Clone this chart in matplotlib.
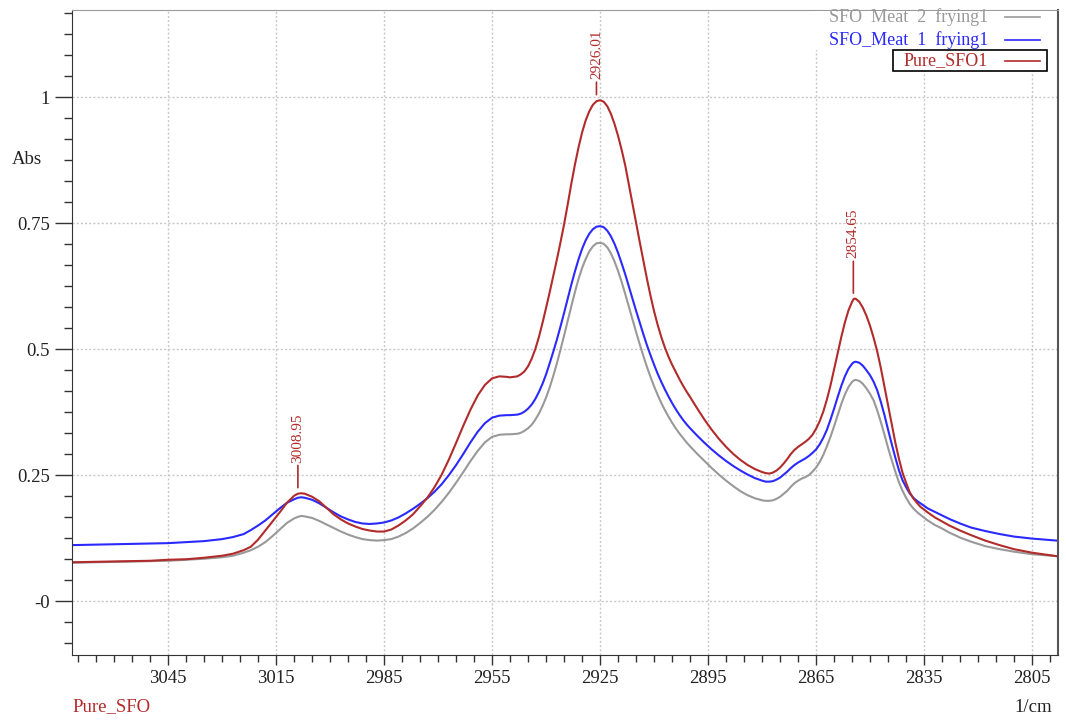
import numpy as np
import matplotlib
matplotlib.use('Agg')
import matplotlib.pyplot as plt
from matplotlib.ticker import FixedLocator, FixedFormatter, MultipleLocator
from matplotlib.patches import Rectangle

plt.rcParams['font.family'] = ['Liberation Serif', 'DejaVu Serif']

# wavenumber (1/cm)
wavenumber = [3072, 3065, 3058, 3050, 3045, 3040, 3035, 3030, 3027, 3024, 3022, 3020, 3018, 3016, 3014, 3012, 3010, 3009, 3008, 3007,
              3005, 3003, 3001, 2999, 2997, 2995, 2993, 2991, 2989, 2987, 2985, 2983, 2981, 2979, 2977, 2975, 2973, 2971, 2969, 2967,
              2965, 2963, 2961, 2959, 2957, 2955, 2953, 2951,
              2950, 2948,
              2947, 2946, 2945, 2944, 2943, 2942, 2941, 2940, 2939, 2938, 2937, 2936, 2935, 2934, 2933, 2932, 2931, 2930, 2929, 2928,
              2927, 2926, 2925, 2924, 2923, 2922, 2921, 2920, 2919, 2918, 2917, 2916, 2915, 2914, 2913, 2912, 2911, 2910, 2909, 2908,
              2907, 2906, 2905, 2904, 2903, 2902, 2901, 2900,
              2898, 2896, 2894, 2892, 2890, 2888, 2886, 2884, 2882, 2880,
              2879, 2878, 2877, 2876, 2875, 2874, 2873, 2872, 2871, 2870, 2869, 2868, 2867, 2866, 2865, 2864, 2863, 2862, 2861, 2860,
              2859, 2858, 2857, 2856, 2855,
              2854.5,
              2854, 2853, 2852, 2851, 2850, 2849, 2848, 2847, 2846, 2845, 2844, 2843, 2842, 2841, 2840, 2839, 2838, 2837, 2836,
              2834, 2832, 2830, 2828, 2825, 2822, 2818, 2814, 2810, 2805, 2798]

pure_sfo1 = [0.077, 0.078, 0.079, 0.080, 0.082, 0.083, 0.086, 0.090, 0.094, 0.101, 0.108, 0.122, 0.140, 0.158, 0.176, 0.195, 0.209, 0.213, 0.214, 0.213,
             0.207, 0.198, 0.185, 0.172, 0.162, 0.154, 0.148, 0.143, 0.140, 0.138, 0.138, 0.142, 0.150, 0.160, 0.172, 0.188, 0.205, 0.226, 0.251, 0.281,
             0.314, 0.348, 0.380, 0.408, 0.429, 0.442, 0.446, 0.445,
             0.444, 0.446,
             0.450, 0.456, 0.466, 0.481, 0.500, 0.524, 0.552, 0.582, 0.613, 0.645, 0.678, 0.712, 0.748, 0.787, 0.828, 0.866, 0.900, 0.930, 0.954, 0.972,
             0.985, 0.992, 0.994, 0.991, 0.982, 0.967, 0.947, 0.923, 0.895, 0.864, 0.826, 0.788, 0.750, 0.713, 0.676, 0.640, 0.606, 0.575, 0.548, 0.524,
             0.503, 0.485, 0.469, 0.455, 0.441, 0.428, 0.416, 0.405,
             0.382, 0.360, 0.340, 0.322, 0.306, 0.292, 0.280, 0.270, 0.262, 0.256,
             0.254, 0.253, 0.255, 0.259, 0.265, 0.273, 0.282, 0.292, 0.300, 0.306, 0.311, 0.316, 0.322, 0.330, 0.342, 0.357, 0.376, 0.400, 0.428, 0.460,
             0.492, 0.524, 0.553, 0.577, 0.594,
             0.600,
             0.600, 0.594, 0.582, 0.566, 0.546, 0.522, 0.495, 0.462, 0.425, 0.388, 0.350, 0.315, 0.283, 0.255, 0.235, 0.216, 0.204, 0.195, 0.187,
             0.176, 0.166, 0.158, 0.150, 0.140, 0.131, 0.120, 0.111, 0.103, 0.096, 0.089]

meat1_frying1 = [0.111, 0.112, 0.113, 0.114, 0.115, 0.117, 0.119, 0.123, 0.127, 0.133, 0.141, 0.150, 0.160, 0.172, 0.184, 0.195, 0.202, 0.205, 0.206, 0.205,
                 0.201, 0.194, 0.185, 0.176, 0.168, 0.162, 0.157, 0.154, 0.153, 0.154, 0.156, 0.160, 0.166, 0.174, 0.183, 0.193, 0.204, 0.217, 0.232, 0.250,
                 0.270, 0.292, 0.315, 0.336, 0.353, 0.364, 0.368, 0.369,
                 0.369, 0.370,
                 0.372, 0.376, 0.382, 0.390, 0.401, 0.415, 0.431, 0.450, 0.472, 0.495, 0.519, 0.545, 0.572, 0.600, 0.628, 0.654, 0.678, 0.699, 0.716, 0.729,
                 0.738, 0.743, 0.744, 0.742, 0.735, 0.724, 0.709, 0.691, 0.670, 0.648, 0.624, 0.600, 0.576, 0.553, 0.530, 0.508, 0.488, 0.469, 0.451, 0.435,
                 0.420, 0.406, 0.393, 0.381, 0.370, 0.360, 0.351, 0.343,
                 0.328, 0.314, 0.301, 0.289, 0.278, 0.268, 0.259, 0.251, 0.244, 0.239,
                 0.237, 0.237, 0.238, 0.241, 0.245, 0.251, 0.257, 0.264, 0.270, 0.275, 0.279, 0.283, 0.288, 0.294, 0.301, 0.311, 0.324, 0.340, 0.360, 0.382,
                 0.405, 0.427, 0.446, 0.461, 0.471,
                 0.474,
                 0.475, 0.473, 0.467, 0.458, 0.448, 0.435, 0.418, 0.395, 0.369, 0.340, 0.312, 0.285, 0.260, 0.240, 0.226, 0.214, 0.205, 0.199, 0.194,
                 0.184, 0.177, 0.170, 0.163, 0.154, 0.146, 0.139, 0.133, 0.128, 0.124, 0.120]

meat2_frying1 = [0.076, 0.077, 0.078, 0.079, 0.080, 0.082, 0.084, 0.087, 0.090, 0.096, 0.101, 0.108, 0.117, 0.129, 0.142, 0.155, 0.164, 0.167, 0.169, 0.168,
                 0.165, 0.159, 0.152, 0.145, 0.138, 0.132, 0.127, 0.123, 0.121, 0.120, 0.121, 0.123, 0.128, 0.135, 0.144, 0.155, 0.167, 0.181, 0.197, 0.215,
                 0.235, 0.256, 0.278, 0.298, 0.315, 0.326, 0.330, 0.331,
                 0.331, 0.332,
                 0.334, 0.338, 0.343, 0.350, 0.360, 0.372, 0.387, 0.404, 0.424, 0.447, 0.472, 0.499, 0.527, 0.556, 0.585, 0.613, 0.639, 0.661, 0.679, 0.694,
                 0.704, 0.710, 0.711, 0.709, 0.702, 0.690, 0.674, 0.655, 0.633, 0.609, 0.584, 0.559, 0.534, 0.510, 0.487, 0.465, 0.445, 0.426, 0.409, 0.393,
                 0.379, 0.366, 0.354, 0.343, 0.333, 0.324, 0.315, 0.307,
                 0.292, 0.278, 0.264, 0.251, 0.239, 0.228, 0.218, 0.210, 0.204, 0.200,
                 0.199, 0.199, 0.200, 0.203, 0.207, 0.213, 0.219, 0.227, 0.234, 0.239, 0.243, 0.246, 0.250, 0.257, 0.265, 0.276, 0.290, 0.307, 0.326, 0.347,
                 0.369, 0.391, 0.410, 0.425, 0.435,
                 0.438,
                 0.439, 0.437, 0.431, 0.422, 0.411, 0.398, 0.378, 0.355, 0.330, 0.304, 0.280, 0.257, 0.236, 0.219, 0.205, 0.193, 0.184, 0.177, 0.171,
                 0.160, 0.151, 0.144, 0.136, 0.126, 0.118, 0.109, 0.103, 0.098, 0.093, 0.089]

peak_labels = ['3008.95', '2926.01', '2854.65']
x_ticks = [3045, 3015, 2985, 2955, 2925, 2895, 2865, 2835, 2805]
y_ticks = [0, 0.25, 0.5, 0.75, 1]
y_ticklabels = ['-0', '0.25', '0.5', '0.75', '1']

RED = '#b22b2b'
BLUE = '#2a2aff'
GRAY = '#999999'

fig = plt.figure(figsize=(10.66, 7.23), dpi=100)
ax = fig.add_axes([72 / 1066, 1 - 655 / 723, 986 / 1066, 645 / 723])

x = np.array(wavenumber)
ax.plot(x, meat2_frying1, color=GRAY, lw=1.5)
ax.plot(x, meat1_frying1, color=BLUE, lw=1.5)
ax.plot(x, pure_sfo1, color=RED, lw=1.5)

ax.set_xlim(3071.7, 2797.8)
ax.set_ylim(-0.107, 1.173)

ax.xaxis.set_major_locator(FixedLocator(x_ticks))
ax.xaxis.set_minor_locator(MultipleLocator(5))
ax.yaxis.set_major_locator(FixedLocator(y_ticks))
ax.yaxis.set_major_formatter(FixedFormatter(y_ticklabels))
ax.yaxis.set_minor_locator(MultipleLocator(0.25 / 6))
ax.tick_params(axis='x', which='major', length=7, width=1, labelsize=13.5, pad=4, colors='#333333')
ax.tick_params(axis='x', which='minor', length=5, width=1, colors='#333333')
ax.tick_params(axis='y', which='major', length=12, width=1, labelsize=13.5, pad=4, colors='#333333')
ax.tick_params(axis='y', which='minor', length=6, width=1, colors='#333333')
for lab in ax.get_xticklabels() + ax.get_yticklabels():
    lab.set_color('#222222')

ax.grid(True, which='major', color='#c8c8c8', lw=1, linestyle=(0, (1.5, 1.5)))
ax.set_axisbelow(True)
ax.spines['left'].set_color('#333333')
ax.spines['bottom'].set_color('#333333')
ax.spines['top'].set_color('#999999')
ax.spines['right'].set_color('#555555')
ax.spines['right'].set_linewidth(1.5)

# peak labels on the Pure_SFO1 curve
line_len = [16, 9, 23]
for lab, ln in zip(peak_labels, line_len):
    px = float(lab)
    i = int(np.argmin(np.abs(x - px)))
    py = max(pure_sfo1[max(i - 1, 0):i + 2])
    ax.annotate('', xy=(px, py), xytext=(0, 4 + ln), textcoords='offset points',
                arrowprops=dict(arrowstyle='-', color=RED, lw=1.2, shrinkA=0, shrinkB=4))
    ax.annotate(lab, xy=(px, py), xytext=(0, 6 + ln), textcoords='offset points',
                rotation=90, ha='center', va='bottom', color=RED, fontsize=11)

# legend box in the style of the instrument software
tr = ax.transAxes
ax.add_patch(Rectangle((0.7485, 0.938), 0.2485, 0.0605, transform=tr, facecolor='white',
                       edgecolor='none', zorder=5, clip_on=False))
ax.add_patch(Rectangle((0.8327, 0.9054), 0.156, 0.0326, transform=tr, facecolor='white',
                       edgecolor='black', lw=1.2, zorder=6, clip_on=False))
legend_items = [('SFO  Meat  2  frying1', GRAY, 0.989),
                ('SFO_Meat  1  frying1', BLUE, 0.9535),
                ('Pure_SFO1', RED, 0.921)]
for txt, col, fy in legend_items:
    ax.text(0.929, fy, txt, transform=tr, color=col, fontsize=13, ha='right', va='center', zorder=7)
    ax.plot([0.946, 0.982], [fy, fy], transform=tr, color=col, lw=1.2, zorder=7, clip_on=False)

fig.text(42 / 1066, 1 - 160 / 723, 'Abs', ha='right', va='center', fontsize=13.5, color='#222222')
fig.text(72 / 1066, 1 - 707 / 723, 'Pure_SFO', ha='left', va='center', fontsize=13.5, color=RED)
fig.text(1052 / 1066, 1 - 707 / 723, '1/cm', ha='right', va='center', fontsize=13.5, color='#222222')

fig.savefig('out.png', dpi=100)
